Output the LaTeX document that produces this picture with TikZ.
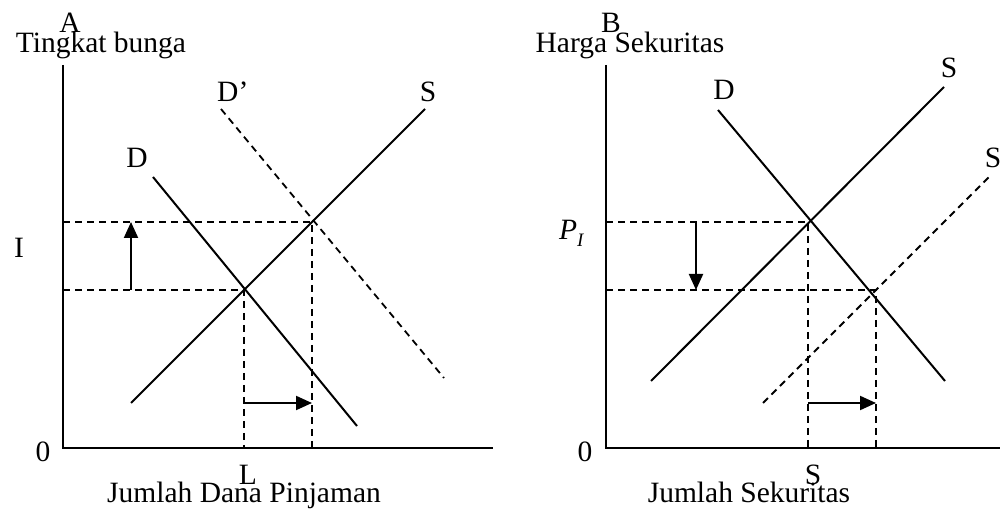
\documentclass[tikz,border=0pt]{standalone}
\usepackage{fontspec}
\setmainfont{Liberation Serif}
\usetikzlibrary{arrows.meta}
\begin{document}
\begin{tikzpicture}[x=1pt,y=-1pt,
  lbl/.style={inner sep=0pt,anchor=base,font=\fontsize{29.5}{32}\selectfont},
  axis/.style={line width=2.4pt},
  curve/.style={line width=2pt},
  dcurve/.style={line width=1.8pt,dash pattern=on 7pt off 5pt},
  guide/.style={line width=1.8pt,dash pattern=on 7pt off 5pt},
  movearrow/.style={line width=2pt,-{Triangle[length=16pt,width=14pt]}}]
\useasboundingbox (0,0) rectangle (1002,510);
% ---------- Panel A ----------
\coordinate (aO) at (63,448);
\coordinate (aY) at (63,65);
\coordinate (aX) at (493,448);
\draw[axis] (aY) -- (aO) -- (aX);
\node[lbl] (lA) at (70,33) {A};
\node[lbl] (lTB) at (101,53) {Tingkat bunga};
\node[lbl] (lI) at (19,258) {I};
\node[lbl] (l0a) at (43,462) {0};
\node[lbl] (lL) at (248,485) {L};
\node[lbl] (lJD) at (244,503) {Jumlah Dana Pinjaman};
\node[lbl,anchor=base west] (lDp) at (217,102) {D’};
\node[lbl] (lSa) at (428,102) {S};
\node[lbl] (lDa) at (137,168) {D};
\coordinate (aS1) at (131,403); \coordinate (aS2) at (425,109);
\coordinate (aD1) at (153,177); \coordinate (aD2) at (357,426);
\coordinate (aDp1) at (221,109); \coordinate (aDp2) at (444,378);
\draw[curve] (aS1) -- (aS2);
\draw[curve] (aD1) -- (aD2);
\draw[dcurve] (aDp1) -- (aDp2);
\coordinate (aE1) at (244,290);
\coordinate (aE2) at (312,222);
\coordinate (aE1y) at (63,290); \coordinate (aE2y) at (63,222);
\coordinate (aE1x) at (244,448); \coordinate (aE2x) at (312,448);
\draw[guide] (aE2y) -- (aE2) -- (aE2x);
\draw[guide] (aE1y) -- (aE1) -- (aE1x);
\coordinate (aUp1) at (131,290); \coordinate (aUp2) at (131,222);
\draw[movearrow] (aUp1) -- (aUp2);
\coordinate (aR1) at (244,403); \coordinate (aR2) at (312,403);
\draw[movearrow] (aR1) -- (aR2);
% ---------- Panel B ----------
\coordinate (bO) at (606,448);
\coordinate (bY) at (606,65);
\coordinate (bX) at (1000,448);
\draw[axis] (bY) -- (bO) -- (bX);
\node[lbl] (lB) at (611,33) {B};
\node[lbl] (lHS) at (630,53) {Harga Sekuritas};
\node[lbl,anchor=base west] (lP) at (559,240) {\textit{P}\raisebox{-7pt}{\fontsize{19}{20}\selectfont\textit{I}}};
\node[lbl] (l0b) at (585,462) {0};
\node[lbl] (lSx) at (813,485) {S};
\node[lbl] (lJS) at (749,503) {Jumlah Sekuritas};
\node[lbl] (lDb) at (724,100) {D};
\node[lbl] (lSb) at (949,78) {S};
\node[lbl] (lSb2) at (993,168) {S};
\coordinate (bS1) at (651,381); \coordinate (bS2) at (944,87);
\coordinate (bD1) at (718,110); \coordinate (bD2) at (945,381);
\coordinate (bSp1) at (763,403); \coordinate (bSp2) at (990,176);
\draw[curve] (bS1) -- (bS2);
\draw[curve] (bD1) -- (bD2);
\draw[dcurve] (bSp1) -- (bSp2);
\coordinate (bE1) at (808,222);
\coordinate (bE2) at (876,290);
\coordinate (bE1y) at (606,222); \coordinate (bE2y) at (606,290);
\coordinate (bE1x) at (808,448); \coordinate (bE2x) at (876,448);
\draw[guide] (bE1y) -- (bE1) -- (bE1x);
\draw[guide] (bE2y) -- (bE2) -- (bE2x);
\coordinate (bDn1) at (696,222); \coordinate (bDn2) at (696,290);
\draw[movearrow] (bDn1) -- (bDn2);
\coordinate (bR1) at (808,403); \coordinate (bR2) at (876,403);
\draw[movearrow] (bR1) -- (bR2);
\end{tikzpicture}
\end{document}
